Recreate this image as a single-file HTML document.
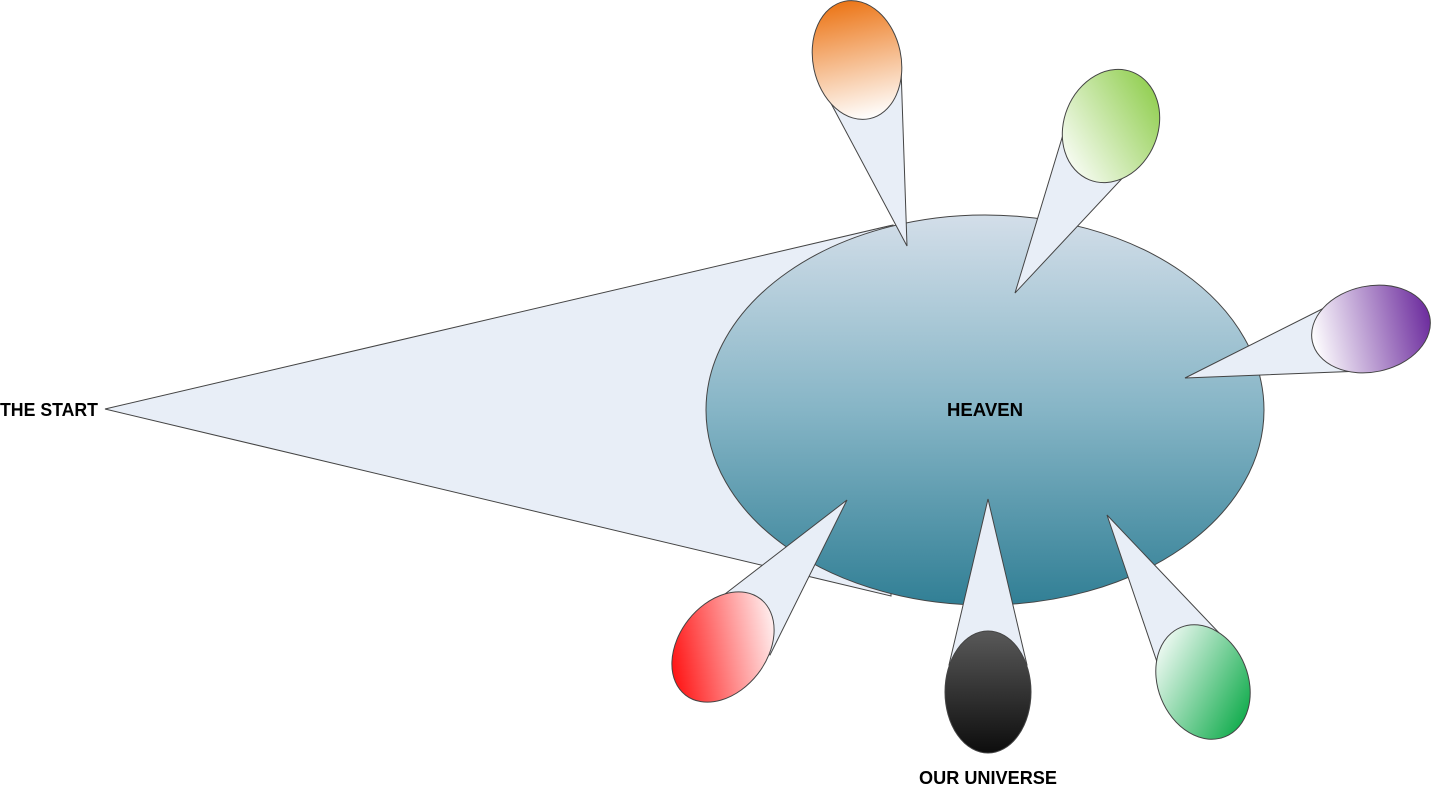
<!DOCTYPE html>
<html><head><meta charset="utf-8"><style>
html,body{margin:0;padding:0;background:#fff;}
svg{display:block;}
text{font-family:"Liberation Sans",sans-serif;font-weight:bold;font-size:18px;fill:#000;}
</style></head><body>
<svg width="1431" height="792" viewBox="0 0 1431 792" xmlns="http://www.w3.org/2000/svg">
<defs>
<linearGradient id="gh" x1="0" y1="0" x2="0" y2="1"><stop offset="0" stop-color="#d3dee9"/><stop offset="0.5" stop-color="#86b5c6"/><stop offset="1" stop-color="#317f95"/></linearGradient>
<linearGradient id="go" gradientUnits="userSpaceOnUse" x1="857" y1="0" x2="857" y2="120"><stop offset="0" stop-color="#ec7618"/><stop offset="1" stop-color="#ffffff"/></linearGradient>
<linearGradient id="gg" gradientUnits="userSpaceOnUse" x1="1150" y1="75" x2="1072" y2="178"><stop offset="0" stop-color="#8ccc48"/><stop offset="1" stop-color="#ffffff"/></linearGradient>
<linearGradient id="gp" gradientUnits="userSpaceOnUse" x1="1311" y1="0" x2="1431" y2="0"><stop offset="0" stop-color="#ffffff"/><stop offset="1" stop-color="#6d2d9e"/></linearGradient>
<linearGradient id="gr" gradientUnits="userSpaceOnUse" x1="765" y1="600" x2="680" y2="695"><stop offset="0" stop-color="#ffffff"/><stop offset="1" stop-color="#ff0000"/></linearGradient>
<linearGradient id="gk" x1="0" y1="0" x2="0" y2="1"><stop offset="0" stop-color="#595959"/><stop offset="1" stop-color="#0d0d0d"/></linearGradient>
<linearGradient id="gn" gradientUnits="userSpaceOnUse" x1="1162" y1="632" x2="1245" y2="732"><stop offset="0" stop-color="#ffffff"/><stop offset="1" stop-color="#00a640"/></linearGradient>
</defs>
<g stroke="#444" stroke-width="1">
<polygon points="105,409 893,225 891,596" fill="#e8eef7"/>
<ellipse cx="985" cy="410" rx="279" ry="195" fill="url(#gh)"/>
<polygon points="907,246 826,94 901,68" fill="#e8eef7"/>
<ellipse cx="857" cy="60" rx="44" ry="60" transform="rotate(-12 857 60)" fill="url(#go)"/>
<polygon points="1015,293 1065,128 1130,170" fill="#e8eef7"/>
<ellipse cx="1111" cy="126" rx="47" ry="58" transform="rotate(22 1111 126)" fill="url(#gg)"/>
<polygon points="1185,378 1340,300 1362,371" fill="#e8eef7"/>
<ellipse cx="1371" cy="329" rx="60" ry="43" transform="rotate(-12 1371 329)" fill="url(#gp)"/>
<polygon points="847,500 712,604 770,655" fill="#e8eef7"/>
<ellipse cx="723" cy="647" rx="44" ry="61" transform="rotate(38 723 647)" fill="url(#gr)"/>
<polygon points="988,499 949,665 1027,665" fill="#e8eef7"/>
<ellipse cx="988" cy="692" rx="43" ry="61" fill="url(#gk)"/>
<polygon points="1107,515 1157,662 1222,636" fill="#e8eef7"/>
<ellipse cx="1203" cy="682" rx="45" ry="59" transform="rotate(-22 1203 682)" fill="url(#gn)"/>
</g>
<text x="0" y="416" textLength="98" lengthAdjust="spacingAndGlyphs">THE START</text>
<text x="947" y="416" textLength="76" lengthAdjust="spacingAndGlyphs">HEAVEN</text>
<text x="919" y="784" textLength="138" lengthAdjust="spacingAndGlyphs">OUR UNIVERSE</text>
</svg>
</body></html>
